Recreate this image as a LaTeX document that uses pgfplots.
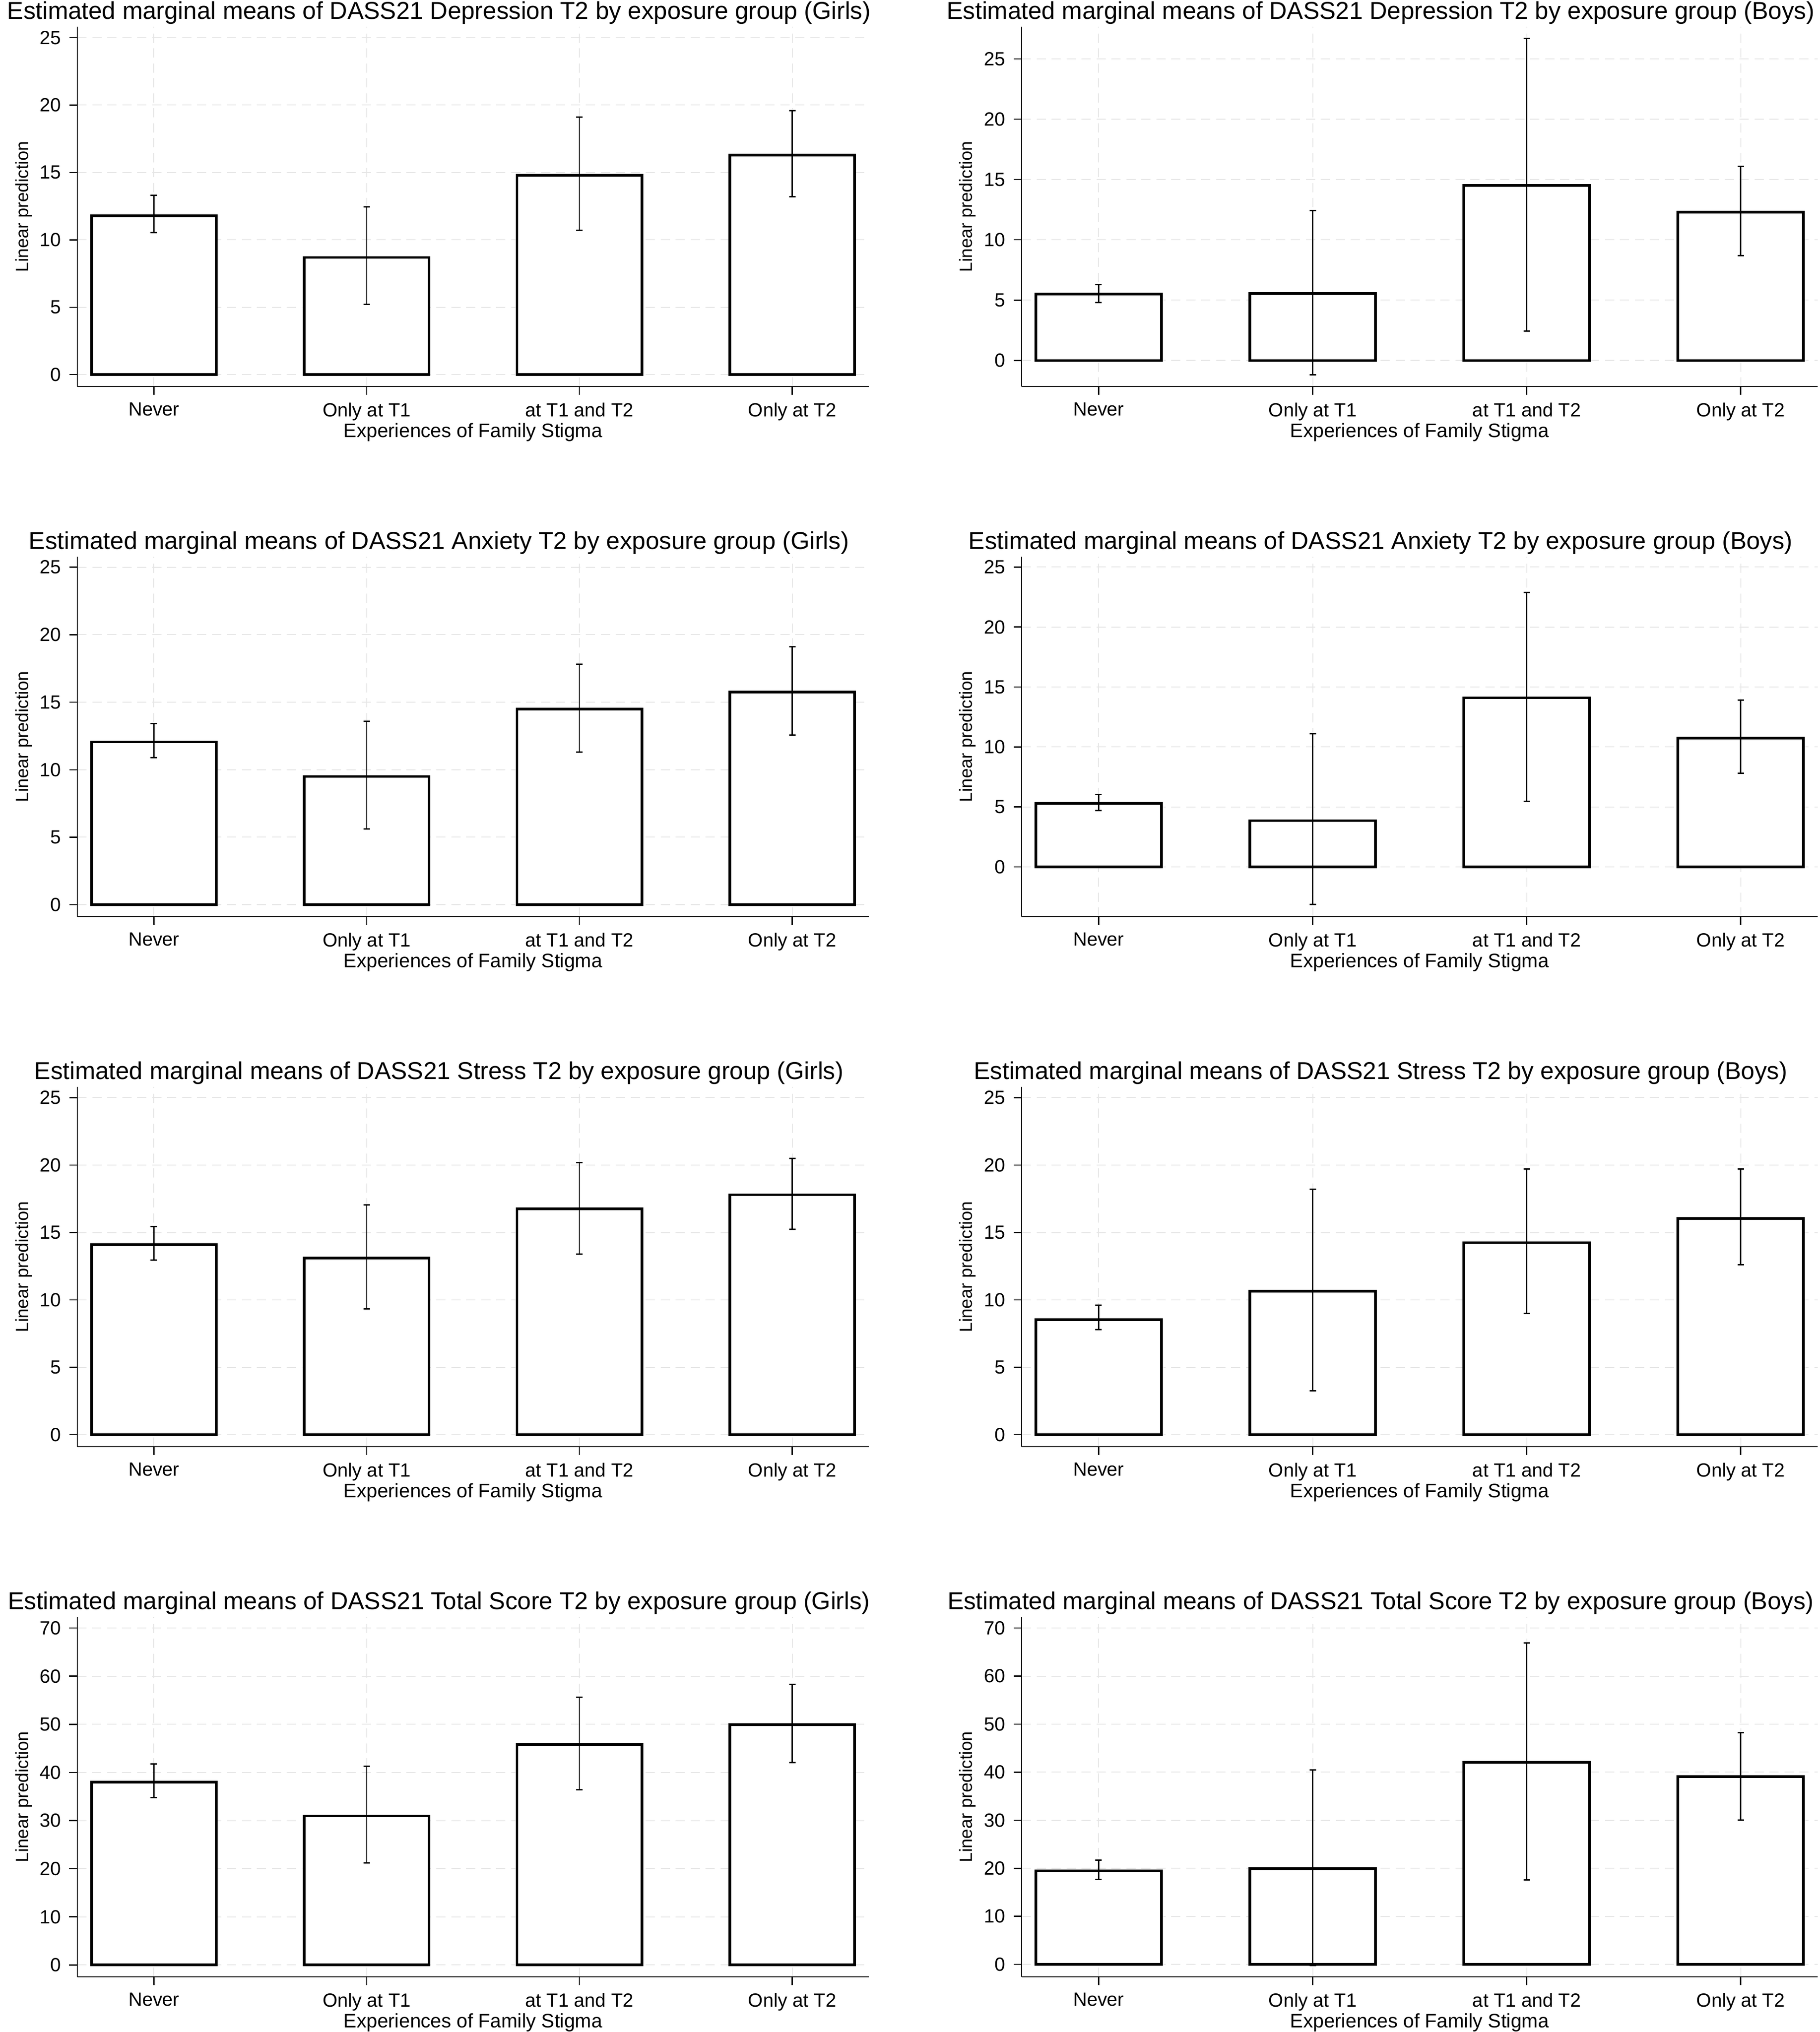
\documentclass[border=0pt]{standalone}
\usepackage{fontspec}
\setmainfont{Liberation Sans}
\usepackage{pgfplots}
\usepackage{pgfplotstable}
\pgfplotsset{compat=1.18}
\definecolor{gridgray}{HTML}{E6E6E6}

% columns: x  mean  lower CI  upper CI
\pgfplotstableread{
x y lo hi
0 11.8 10.55 13.3
1 8.7 5.2 12.45
2 14.8 10.7 19.1
3 16.3 13.2 19.6
}\depG
\pgfplotstableread{
x y lo hi
0 5.5 4.8 6.3
1 5.55 -1.2 12.45
2 14.5 2.45 26.7
3 12.3 8.7 16.1
}\depB
\pgfplotstableread{
x y lo hi
0 12.05 10.9 13.4
1 9.5 5.6 13.6
2 14.5 11.3 17.8
3 15.75 12.55 19.1
}\anxG
\pgfplotstableread{
x y lo hi
0 5.3 4.7 6.05
1 3.85 -3.15 11.1
2 14.1 5.45 22.9
3 10.75 7.8 13.9
}\anxB
\pgfplotstableread{
x y lo hi
0 14.1 12.95 15.45
1 13.1 9.35 17.05
2 16.75 13.4 20.2
3 17.8 15.25 20.5
}\strG
\pgfplotstableread{
x y lo hi
0 8.55 7.8 9.6
1 10.65 3.25 18.2
2 14.25 9.0 19.7
3 16.05 12.6 19.7
}\strB
\pgfplotstableread{
x y lo hi
0 38.0 34.75 41.75
1 30.95 21.2 41.25
2 45.8 36.45 55.6
3 49.9 42.05 58.3
}\totG
\pgfplotstableread{
x y lo hi
0 19.5 17.7 21.7
1 19.95 -0.2 40.5
2 42.05 17.6 66.85
3 39.05 30.05 48.2
}\totB

\pgfplotsset{
  panel/.style={
    scale only axis, height=156.4pt,
    axis x line*=bottom, axis y line*=left,
    axis line style={-, line width=0.5pt, black},
    xmin=-0.36, xmax=3.36,
    xtick={0,1,2,3},
    xticklabels={Never,Only at T1,at T1 and T2,Only at T2},
    tick align=outside, major tick length=3.5pt,
    every tick/.style={black, line width=0.5pt},
    minor tick num=0,
    grid=major,
    major grid style={dash pattern=on 4pt off 2.5pt, line width=0.4pt, color=gridgray},
    tick label style={font=\fontsize{8.3}{10}\selectfont},
    /pgf/number format/assume math mode=true,
    xlabel={Experiences of Family Stigma},
    ylabel={Linear prediction},
    xlabel style={font=\fontsize{8.5}{10}\selectfont, at={(axis description cs:0.5,-0.1266)}, anchor=center},
    ylabel style={font=\fontsize{7.7}{9}\selectfont, at={(axis description cs:-0.068,0.5)}, anchor=center},
    every axis title shift=0pt,
    title style={font=\fontsize{10.6}{12}\selectfont, anchor=base, yshift=3.3pt},
  },
  leftcol/.style={panel, width=344pt, title style={at={(axis description cs:0.457,1)}}},
  rightcol/.style={panel, width=346pt, title style={at={(axis description cs:0.451,1)}}},
  barstyle/.style={ybar, bar width=0.587, fill=white, draw=black, line width=1.15pt,
    error bars/.cd, y dir=both, y explicit, error mark=-,
    error bar style={draw=black, line width=0.5pt, solid},
    error mark options={draw=black, line width=0.6pt, mark size=1.4pt, solid, rotate=90}},
}

\newcommand{\panelplot}[1]{%
  \addplot[barstyle] table[x=x,y=y,
     y error plus expr=\thisrow{hi}-\thisrow{y},
     y error minus expr=\thisrow{y}-\thisrow{lo}] {#1};
}

\begin{document}
\begin{tikzpicture}
\path[use as bounding box] (0,0) rectangle (790.8pt,-883.2pt);

% Row 1
\begin{axis}[leftcol, at={(33.6pt,-168pt)}, anchor=south west,
  ymin=-0.88, ymax=25.82, ytick={0,5,10,15,20,25},
  title={Estimated marginal means of DASS21 Depression T2 by exposure group (Girls)}]
\panelplot{\depG}
\end{axis}
\begin{axis}[rightcol, at={(444pt,-168pt)}, anchor=south west,
  ymin=-2.16, ymax=27.67, ytick={0,5,10,15,20,25},
  title={Estimated marginal means of DASS21 Depression T2 by exposure group (Boys)}]
\panelplot{\depB}
\end{axis}

% Row 2
\begin{axis}[leftcol, at={(33.6pt,-398.4pt)}, anchor=south west,
  ymin=-0.88, ymax=25.77, ytick={0,5,10,15,20,25},
  title={Estimated marginal means of DASS21 Anxiety T2 by exposure group (Girls)}]
\panelplot{\anxG}
\end{axis}
\begin{axis}[rightcol, at={(444pt,-398.4pt)}, anchor=south west,
  ymin=-4.15, ymax=25.86, ytick={0,5,10,15,20,25},
  title={Estimated marginal means of DASS21 Anxiety T2 by exposure group (Boys)}]
\panelplot{\anxB}
\end{axis}

% Row 3
\begin{axis}[leftcol, at={(33.6pt,-628.8pt)}, anchor=south west,
  ymin=-0.88, ymax=25.8, ytick={0,5,10,15,20,25},
  title={Estimated marginal means of DASS21 Stress T2 by exposure group (Girls)}]
\panelplot{\strG}
\end{axis}
\begin{axis}[rightcol, at={(444pt,-628.8pt)}, anchor=south west,
  ymin=-0.88, ymax=25.8, ytick={0,5,10,15,20,25},
  title={Estimated marginal means of DASS21 Stress T2 by exposure group (Boys)}]
\panelplot{\strB}
\end{axis}

% Row 4
\begin{axis}[leftcol, at={(33.6pt,-859.2pt)}, anchor=south west,
  ymin=-2.46, ymax=72.3, ytick={0,10,20,30,40,50,60,70},
  title={Estimated marginal means of DASS21 Total Score T2 by exposure group (Girls)}]
\panelplot{\totG}
\end{axis}
\begin{axis}[rightcol, at={(444pt,-859.2pt)}, anchor=south west,
  ymin=-2.58, ymax=72.3, ytick={0,10,20,30,40,50,60,70},
  title={Estimated marginal means of DASS21 Total Score T2 by exposure group (Boys)}]
\panelplot{\totB}
\end{axis}
\end{tikzpicture}
\end{document}
